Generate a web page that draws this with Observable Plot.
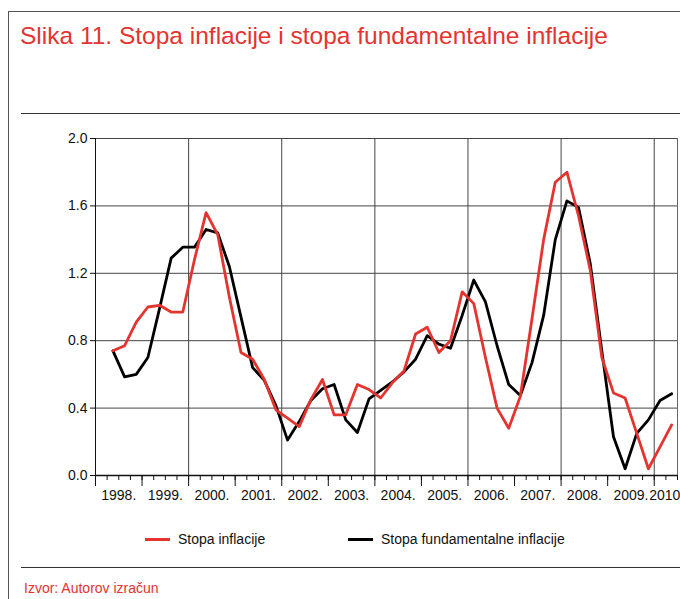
<!DOCTYPE html>
<html>
<head>
<meta charset="utf-8">
<script src="https://cdn.jsdelivr.net/npm/d3@7"></script>
<script src="https://cdn.jsdelivr.net/npm/@observablehq/plot@0.6"></script>
<style>
  html, body { margin: 0; padding: 0; background: #fff; }
  body { width: 680px; height: 599px; overflow: hidden; position: relative;
         font-family: "Liberation Sans", Arial, sans-serif; color: #111; }
  #frame { position: absolute; left: 8px; top: 11px; width: 700px; height: 620px;
           border-left: 1px solid #555; border-top: 1px solid #555; }
  #title { position: absolute; left: 20px; top: 21px; font-size: 24.5px; line-height: 30px;
           color: #e3342f; white-space: nowrap; }
  .rule { position: absolute; left: 21px; width: 659px; height: 0; border-top: 1px solid #333; }
  #chart { position: absolute; left: 0; top: 120px; }
  .leg { position: absolute; top: 530px; height: 18px; font-size: 14px; line-height: 18px; white-space: nowrap; }
  .sw { position: absolute; top: 8px; width: 25px; height: 3px; }
  #caption { position: absolute; left: 24px; top: 579px; font-size: 14px; line-height: 18px; color: #e3342f; }
</style>
</head>
<body>
<div id="frame"></div>
<div id="title">Slika 11. Stopa inflacije i stopa fundamentalne inflacije</div>
<div class="rule" style="top:113px"></div>
<div id="chart"></div>
<div id="legend"></div>
<div class="rule" style="top:567px"></div>
<div id="caption">Izvor: Autorov izračun</div>
<script>
// ---- data (quarterly, 1998 Q2 – 2010 Q2) ----
const startYear = 1998;
const startQuarter = 2;
const seriesNames = ["Stopa inflacije", "Stopa fundamentalne inflacije"];
const seriesColors = ["#e3342f", "#000000"];
const inflation = [
  0.74, 0.77, 0.91, 1.00, 1.01, 0.97, 0.97,
  1.28, 1.56, 1.43, 1.06,
  0.73, 0.69, 0.57, 0.39,
  0.34, 0.29, 0.45, 0.57,
  0.36, 0.36, 0.54, 0.51,
  0.46, 0.55, 0.62, 0.84,
  0.88, 0.73, 0.80, 1.09,
  1.02, 0.70, 0.40, 0.28,
  0.47, 0.93, 1.40, 1.74,
  1.80, 1.54, 1.22, 0.70,
  0.49, 0.46, 0.25, 0.04,
  0.17, 0.30
];
const coreInflation = [
  0.74, 0.585, 0.60, 0.70, 0.99, 1.29, 1.355,
  1.355, 1.46, 1.44, 1.24,
  0.94, 0.64, 0.565, 0.415,
  0.21, 0.32, 0.445, 0.515,
  0.54, 0.33, 0.255, 0.455,
  0.505, 0.555, 0.615, 0.69,
  0.83, 0.78, 0.755, 0.95,
  1.16, 1.03, 0.77, 0.54,
  0.475, 0.67, 0.95, 1.40,
  1.63, 1.59, 1.26, 0.74,
  0.23, 0.04, 0.25, 0.33,
  0.445, 0.485
];
const yTicks = [0, 0.4, 0.8, 1.2, 1.6, 2.0];
const years = [1998, 1999, 2000, 2001, 2002, 2003, 2004, 2005, 2006, 2007, 2008, 2009, 2010];
const yearLabels = ["1998.", "1999.", "2000.", "2001.", "2002.", "2003.", "2004.", "2005.", "2006.", "2007.", "2008.", "2009.", "2010"];
const gridYears = [2000, 2002, 2004, 2006, 2008, 2010];

// ---- build rows ----
const tOf = i => startYear + (startQuarter - 1 + i + 0.5) / 4;
const rowsInf = inflation.map((v, i) => ({ t: tOf(i), v }));
const rowsCore = coreInflation.map((v, i) => ({ t: tOf(i), v }));
const xMax = tOf(inflation.length - 1) + 0.125;
const quarterTicks = d3.range(0, (xMax - startYear) * 4 + 0.001).map(k => startYear + k / 4);
const labelRows = years.map((y, i) => ({ x: y + 0.5, label: yearLabels[i] }));

const chart = Plot.plot({
  width: 680,
  height: 390,
  marginTop: 18,
  marginBottom: 35,
  marginLeft: 95,
  marginRight: 3,
  x: { domain: [startYear, xMax] },
  y: { domain: [0, 2] },
  style: { fontFamily: "'Liberation Sans', Arial, sans-serif", fontSize: "14px", color: "#111", background: "transparent" },
  marks: [
    Plot.ruleY(yTicks, { stroke: "#444", strokeWidth: 1 }),
    Plot.ruleX(gridYears, { stroke: "#444", strokeWidth: 1 }),
    Plot.ruleX([xMax], { stroke: "#666", strokeWidth: 1 }),
    Plot.ruleX([startYear], { stroke: "#111", strokeWidth: 1 }),
    Plot.ruleY([0], { stroke: "#111", strokeWidth: 1.3 }),
    Plot.axisY({ ticks: yTicks, tickSize: 5, tickPadding: 3, tickFormat: d3.format(".1f"), label: null, fontSize: 14 }),
    Plot.axisX({ ticks: quarterTicks, tickSize: 5, tickFormat: () => "", label: null }),
    Plot.axisX({ ticks: years, tickSize: 11, tickFormat: () => "", label: null }),
    Plot.text(labelRows.slice(0, -1), { x: "x", y: () => 0, text: "label", dy: 20, fontSize: 14, fill: "#111" }),
    Plot.text(labelRows.slice(-1), { x: d => d.x - 0.5, y: () => 0, text: "label", dy: 20, dx: -5, textAnchor: "start", fontSize: 14, fill: "#111" }),
    Plot.line(rowsCore, { x: "t", y: "v", stroke: seriesColors[1], strokeWidth: 2.8 }),
    Plot.line(rowsInf, { x: "t", y: "v", stroke: seriesColors[0], strokeWidth: 2.8 })
  ]
});
document.getElementById("chart").appendChild(chart);

// ---- legend ----
const legend = document.getElementById("legend");
const legPos = [145, 348];
seriesNames.forEach((name, i) => {
  const item = document.createElement("div");
  item.className = "leg";
  item.style.left = legPos[i] + "px";
  item.innerHTML = `<span class="sw" style="left:0;background:${seriesColors[i]}"></span><span style="margin-left:33px">${name}</span>`;
  legend.appendChild(item);
});
</script>
</body>
</html>
